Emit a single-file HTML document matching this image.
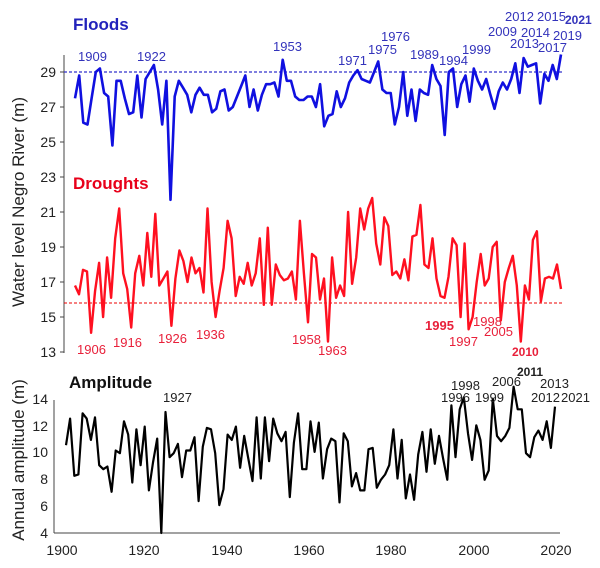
<!DOCTYPE html>
<html><head><meta charset="utf-8"><style>
html,body{margin:0;padding:0;background:#fff;}
svg{display:block;font-family:"Liberation Sans Narrow","Liberation Sans",sans-serif;}
</style></head><body>
<svg id="s" width="600" height="568" viewBox="0 0 600 568">
<rect width="600" height="568" fill="#fff"/>
<!-- top axis -->
<line x1="64" y1="55" x2="64" y2="353" stroke="#444" stroke-width="1"/>
<g stroke="#444"><line x1="60" y1="72" x2="64" y2="72"/><line x1="60" y1="107" x2="64" y2="107"/><line x1="60" y1="142" x2="64" y2="142"/><line x1="60" y1="177" x2="64" y2="177"/><line x1="60" y1="212" x2="64" y2="212"/><line x1="60" y1="247" x2="64" y2="247"/><line x1="60" y1="282" x2="64" y2="282"/><line x1="60" y1="317" x2="64" y2="317"/><line x1="60" y1="352" x2="64" y2="352"/></g>
<g font-family="Liberation Sans,sans-serif" font-size="14" fill="#222" text-anchor="end">
<text x="56" y="77">29</text><text x="56" y="112">27</text><text x="56" y="147">25</text><text x="56" y="182">23</text><text x="56" y="217">21</text><text x="56" y="252">19</text><text x="56" y="287">17</text><text x="56" y="322">15</text><text x="56" y="357">13</text>
</g>
<line x1="64" y1="72" x2="562" y2="72" stroke="#3333cc" stroke-width="1.2" stroke-dasharray="3,2"/>
<line x1="64" y1="303" x2="562" y2="303" stroke="#e00" stroke-width="1" stroke-dasharray="3,2"/>
<!-- bottom axis -->
<line x1="54" y1="400" x2="54" y2="533" stroke="#444"/>
<line x1="54" y1="533" x2="560" y2="533" stroke="#444"/>
<g font-family="Liberation Sans,sans-serif" font-size="14" fill="#222" text-anchor="end">
<text x="48" y="404">14</text><text x="48" y="431">12</text><text x="48" y="457">10</text><text x="48" y="484">8</text><text x="48" y="511">6</text><text x="48" y="538">4</text>
</g>
<g font-family="Liberation Sans,sans-serif" font-size="14" fill="#222" text-anchor="middle">
<text x="62" y="555">1900</text><text x="144" y="555">1920</text><text x="227" y="555">1940</text><text x="309" y="555">1960</text><text x="391" y="555">1980</text><text x="474" y="555">2000</text><text x="556" y="555">2020</text>
</g>
<text transform="translate(24,202) rotate(-90)" text-anchor="middle" font-family="Liberation Sans,sans-serif" font-size="17" fill="#222">Water level Negro River (m)</text>
<text transform="translate(24,460) rotate(-90)" text-anchor="middle" font-family="Liberation Sans,sans-serif" font-size="17" fill="#222">Annual amplitude (m)</text>
<text x="73" y="30" font-family="Liberation Sans,sans-serif" font-size="17" font-weight="bold" fill="#2222bb">Floods</text>
<text x="73" y="189" font-family="Liberation Sans,sans-serif" font-size="17" font-weight="bold" fill="#e8001a">Droughts</text>
<text x="69" y="388" font-family="Liberation Sans,sans-serif" font-size="17" font-weight="bold" fill="#111">Amplitude</text>
<g id="lines"></g>
<g font-size="13" fill="#3333bb">
<text x="78" y="61">1909</text><text x="137" y="61">1922</text><text x="273" y="51">1953</text><text x="338" y="65">1971</text><text x="368" y="54">1975</text><text x="381" y="41">1976</text><text x="410" y="59">1989</text><text x="439" y="65">1994</text><text x="462" y="54">1999</text><text x="488" y="36">2009</text><text x="505" y="21">2012</text><text x="510" y="48">2013</text><text x="521" y="37">2014</text><text x="537" y="21">2015</text><text x="538" y="52">2017</text><text x="553" y="40">2019</text><text x="565" y="24" font-weight="bold" font-family="Liberation Sans,sans-serif" font-size="12">2021</text>
</g>
<g font-size="13" fill="#e8203a">
<text x="77" y="354">1906</text><text x="113" y="347">1916</text><text x="158" y="343">1926</text><text x="196" y="339">1936</text><text x="292" y="344">1958</text><text x="318" y="355">1963</text><text x="425" y="330" font-weight="bold">1995</text><text x="449" y="346">1997</text><text x="473" y="326">1998</text><text x="484" y="336">2005</text><text x="512" y="356" font-weight="bold" font-family="Liberation Sans,sans-serif" font-size="12">2010</text>
</g>
<g font-size="13" fill="#222">
<text x="163" y="402">1927</text><text x="441" y="402">1996</text><text x="451" y="390">1998</text><text x="475" y="402">1999</text><text x="492" y="386">2006</text><text x="517" y="376" font-weight="bold" font-family="Liberation Sans,sans-serif" font-size="12">2011</text><text x="540" y="388">2013</text><text x="531" y="402">2012</text><text x="561" y="402">2021</text>
</g>
</svg>
<script>
var fl=[27.5,28.8,26.1,26.0,27.5,29.0,29.2,27.8,27.6,24.8,28.5,28.5,27.5,26.6,26.7,28.8,26.4,28.6,29.0,29.4,28.0,26.0,28.5,21.7,27.6,28.5,28.1,27.7,26.7,27.7,28.1,27.7,27.7,26.7,26.9,27.9,28.0,26.8,27.0,27.6,28.2,28.8,27.0,28.0,26.8,27.7,28.3,28.3,28.4,27.6,29.7,28.5,28.5,27.6,27.4,27.4,27.6,27.6,27.0,28.3,25.9,26.5,26.6,27.9,27.0,27.5,28.4,28.8,29.1,28.6,28.5,28.4,29.0,29.6,28.0,27.8,27.8,26.0,27.0,29.0,26.5,28.0,26.2,28.0,27.8,27.7,29.4,28.6,28.2,25.4,29.0,29.2,27.0,28.3,28.8,27.3,29.2,28.5,28.0,28.6,27.7,26.9,27.9,28.4,28.0,28.6,29.5,27.8,29.8,29.3,29.4,29.5,27.2,28.9,28.5,29.4,28.6,30.0];
var dr=[16.8,16.3,17.7,17.6,14.1,16.5,18.1,15.0,18.4,16.1,19.5,21.2,17.5,16.6,14.4,17.5,18.5,16.8,19.8,17.3,20.9,16.8,17.2,17.6,14.5,17.2,18.8,18.2,17.0,18.4,17.5,17.8,16.4,21.2,17.0,15.0,16.5,17.8,20.5,19.5,16.2,17.3,16.9,18.1,16.8,17.5,19.5,15.7,20.1,15.7,18.0,17.4,17.1,17.2,17.6,16.0,20.5,17.5,14.7,18.6,18.4,16.0,17.2,13.6,18.4,16.1,16.8,16.2,21.0,16.9,18.4,21.2,20.0,21.2,21.8,19.2,18.0,20.7,20.2,17.4,17.6,17.2,18.3,17.1,19.6,19.7,21.4,18.0,17.8,19.5,17.2,16.2,16.1,17.3,19.5,19.1,15.0,19.2,14.3,15.0,17.0,18.6,16.8,17.2,19.0,19.3,14.8,17.0,17.8,18.5,16.8,13.6,16.8,16.0,19.4,19.9,15.9,17.2,17.3,17.2,18.0,16.6];
var am=[10.6,12.6,8.3,8.4,13.0,12.6,11.0,12.7,9.1,8.8,9.0,7.1,10.2,10.0,12.4,11.4,7.8,11.8,9.1,12.0,7.2,9.3,11.1,4.0,13.1,9.7,10.0,10.7,8.2,10.2,10.2,11.2,6.4,10.5,11.9,11.8,10.0,6.1,7.3,11.4,11.0,12.0,8.9,11.3,9.6,7.9,12.7,8.1,12.7,9.4,12.6,11.5,10.9,11.6,6.7,10.8,13.0,8.8,8.8,12.4,10.1,12.3,8.1,10.3,11.1,10.9,6.3,11.5,10.9,7.5,8.5,7.2,7.2,10.3,10.4,7.4,8.0,8.4,9.1,11.8,8.1,11.0,6.6,8.4,6.5,9.9,11.6,8.6,11.8,9.2,11.3,9.6,8.0,13.6,9.7,13.3,14.2,11.5,9.5,12.1,11.0,8.0,8.7,14.1,11.3,10.9,11.3,11.9,15.0,13.3,13.3,10.0,9.7,11.2,11.7,11.0,12.4,10.4,13.5];
function pl(d,x0,x1,fy,col,w){var p=[];for(var i=0;i<d.length;i++){var x=x0+(x1-x0)*i/(d.length-1);p.push(x.toFixed(1)+","+fy(d[i]).toFixed(1));}
return '<polyline fill="none" stroke="'+col+'" stroke-width="'+w+'" stroke-linejoin="round" points="'+p.join(" ")+'"/>';}
var ty=function(v){return 72+(29-v)*17.5;};
var by=function(v){return 533-(v-4)*13.3;};
document.getElementById("lines").innerHTML=
 pl(fl,75,561,ty,"#1010e0",2.6)+pl(dr,75,561,ty,"#ff1020",2.4)+pl(am,66,555,by,"#000",2.2);
</script>
</body></html>
